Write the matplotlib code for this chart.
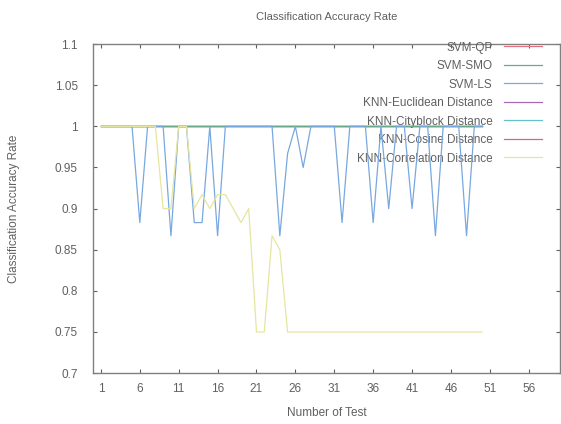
import matplotlib
matplotlib.use('Agg')
import matplotlib.pyplot as plt
from matplotlib.ticker import FormatStrFormatter

plt.rcParams['font.family'] = ['Liberation Sans', 'DejaVu Sans']

tests = list(range(1, 51))

svm_qp = [1.0] * 50
svm_smo = [1.0] * 50
svm_ls = [1, 1, 1, 1, 1, 0.883, 1, 1, 1, 0.867,
          1, 1, 0.883, 0.883, 1, 0.867, 1, 1, 1, 1,
          1, 1, 1, 0.867, 0.967, 1, 0.95, 1, 1, 1,
          1, 0.883, 1, 1, 1, 0.883, 1, 0.9, 1, 1,
          0.9, 1, 1, 0.867, 1, 1, 1, 0.867, 1, 1]
knn_euclid = [1.0] * 50
knn_city = [1.0] * 50
knn_cosine = [1.0] * 50
knn_corr = [1, 1, 1, 1, 1, 1, 1, 1, 0.9, 0.9,
            1, 1, 0.9, 0.917, 0.9, 0.917, 0.917, 0.9, 0.883, 0.9,
            0.75, 0.75, 0.867, 0.85, 0.75, 0.75, 0.75, 0.75, 0.75, 0.75,
            0.75, 0.75, 0.75, 0.75, 0.75, 0.75, 0.75, 0.75, 0.75, 0.75,
            0.75, 0.75, 0.75, 0.75, 0.75, 0.75, 0.75, 0.75, 0.75, 0.75]

labels = ['SVM-QP', 'SVM-SMO', 'SVM-LS', 'KNN-Euclidean Distance',
          'KNN-Cityblock Distance', 'KNN-Cosine Distance', 'KNN-Correlation Distance']
series = [svm_qp, svm_smo, svm_ls, knn_euclid, knn_city, knn_cosine, knn_corr]
colors = ['#e8707f', '#6aa88a', '#78a8e0', '#a868b8', '#68c0c8', '#d86878', '#e6e6a0']
zorders = [2, 6, 7, 3, 5, 4, 8]

xticks = list(range(1, 57, 5))
yticks = [0.7, 0.75, 0.8, 0.85, 0.9, 0.95, 1.0, 1.05, 1.1]

fig = plt.figure(figsize=(5.61, 4.24), dpi=100)
ax = fig.add_axes([0.166, 0.12, 0.832, 0.776])

for y, lab, c, z in zip(series, labels, colors, zorders):
    ax.plot(tests, y, color=c, lw=0.9, label=lab, zorder=z)

ax.set_xlim(0, 60)
ax.set_ylim(0.7, 1.1)
ax.set_xticks(xticks)
ax.set_yticks(yticks)
ax.yaxis.set_major_formatter(FormatStrFormatter('%g'))

txt = '#606060'
for s in ax.spines.values():
    s.set_color('#808080')
    s.set_linewidth(1.0)
ax.tick_params(direction='in', top=True, right=True, length=3, width=0.8,
               color='#606060', labelcolor=txt, labelsize=8.5)
ax.tick_params(axis='x', pad=7)
ax.tick_params(axis='y', pad=11)

ax.set_title('Classification Accuracy Rate', fontsize=8, color=txt, pad=17)
ax.set_xlabel('Number of Test', fontsize=8.5, color=txt, labelpad=9)
ax.set_ylabel('Classification Accuracy Rate', fontsize=8.5, color=txt, labelpad=25)

leg = ax.legend(loc='upper right', markerfirst=False, frameon=False, fontsize=8.5,
                labelspacing=0.55, handlelength=3.2, handletextpad=1.0,
                borderaxespad=0.0, bbox_to_anchor=(0.972, 1.022))
for t in leg.get_texts():
    t.set_color(txt)

fig.savefig('out.png', dpi=100)
